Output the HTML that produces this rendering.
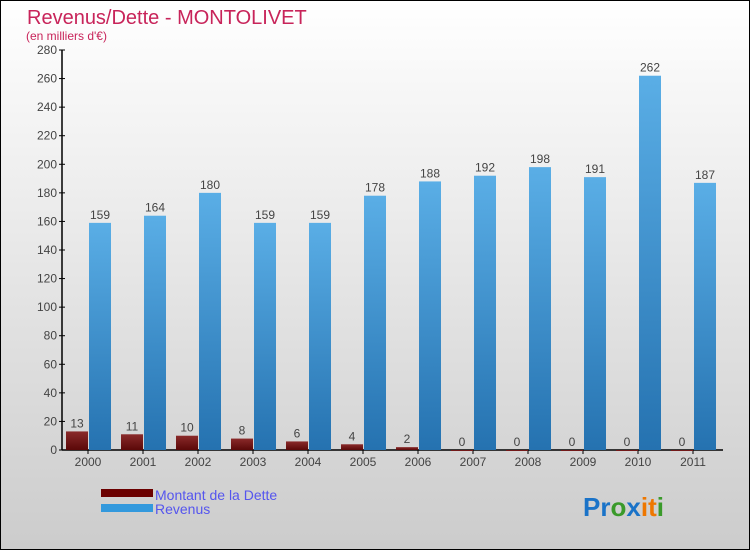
<!DOCTYPE html>
<html><head><meta charset="utf-8"><style>
body{margin:0}
#wrap{position:relative;width:748px;height:548px;border:1px solid #000;background:linear-gradient(#fff,#ccc);font-family:"Liberation Sans",sans-serif;overflow:hidden}
</style></head><body>
<div id="wrap">
<svg id="chart" width="748" height="548">
<defs>
<linearGradient id="gb" x1="0" y1="0" x2="0" y2="1"><stop offset="0" stop-color="#5aaee6"/><stop offset="1" stop-color="#2572b0"/></linearGradient>
<linearGradient id="gr" x1="0" y1="0" x2="0" y2="1"><stop offset="0" stop-color="#8a2a2a"/><stop offset="1" stop-color="#5a0808"/></linearGradient>
</defs>
<text x="26" y="23" font-size="20" fill="#c8245a">Revenus/Dette - MONTOLIVET</text>
<text x="25" y="39" font-size="12" fill="#c8245a">(en milliers d'€)</text>
<g id="axes"></g><g id="bars"></g>
<rect x="100" y="488" width="52" height="8" fill="#6b0000"/>
<rect x="100" y="503" width="52" height="8" fill="#3399dd"/>
<text x="154" y="499" font-size="14" fill="#5555ee">Montant de la Dette</text>
<text x="154" y="513" font-size="14" fill="#5555ee">Revenus</text>
<text x="582" y="515" font-size="26" font-weight="bold"><tspan fill="#1a73c8">Pr</tspan><tspan fill="#3a9a2a">o</tspan><tspan fill="#1a73c8">x</tspan><tspan fill="#ee7700">i</tspan><tspan fill="#ee7700">t</tspan><tspan fill="#3a9a2a">i</tspan></text>
</svg></div>
<script>
const years=["2000","2001","2002","2003","2004","2005","2006","2007","2008","2009","2010","2011"];
const debt=[13,11,10,8,6,4,2,0,0,0,0,0];
const revenus=[159,164,180,159,159,178,188,192,198,191,262,187];
const yTicks=[0,20,40,60,80,100,120,140,160,180,200,220,240,260,280];
const NS="http://www.w3.org/2000/svg";
const x0=61,step=55,base=449,yMax=280,ph=400;
const y=v=>base-v*ph/yMax;
function mk(t,a,p){const e=document.createElementNS(NS,t);for(const k in a)e.setAttribute(k,a[k]);p.appendChild(e);return e;}
const ax=document.getElementById('axes'),bg=document.getElementById('bars');
const yl=mk('line',{x1:x0,y1:y(280),x2:x0,y2:base,stroke:'#000','stroke-width':1.5},ax);


const xl=mk('line',{x1:x0,y1:base,x2:x0+12*step+1,y2:base,stroke:'#000','stroke-width':1.5},ax);


yTicks.forEach(v=>{
 mk('line',{x1:x0-3,x2:x0+3,y1:y(v),y2:y(v),stroke:'#000'},ax);
 const t=mk('text',{x:x0-5,y:y(v)+4,'text-anchor':'end','font-size':12,fill:'#444'},ax);t.textContent=v;
 
 
});
years.forEach((yr,i)=>{
 const gx=x0+i*step+4;
 const c=gx+22;
 mk('line',{x1:c,x2:c,y1:base,y2:base+4,stroke:'#000'},ax);
 const t=mk('text',{x:c,y:base+16,'text-anchor':'middle','font-size':12,fill:'#444'},ax);t.textContent=yr;
 
 
 const d=mk('rect',{x:gx,y:y(debt[i]),width:22,height:Math.max(base-y(debt[i]),1),fill:'url(#gr)'},bg);
 
 
 const r=mk('rect',{x:gx+23,y:y(revenus[i]),width:22,height:base-y(revenus[i]),fill:'url(#gb)'},bg);
 
 
 const dl=mk('text',{x:gx+11,y:y(debt[i])-4,'text-anchor':'middle','font-size':12,fill:'#444'},bg);dl.textContent=debt[i];
 
 
 const rl=mk('text',{x:gx+34,y:y(revenus[i])-4,'text-anchor':'middle','font-size':12,fill:'#444'},bg);rl.textContent=revenus[i];
 
 
});
</script>
</body></html>
